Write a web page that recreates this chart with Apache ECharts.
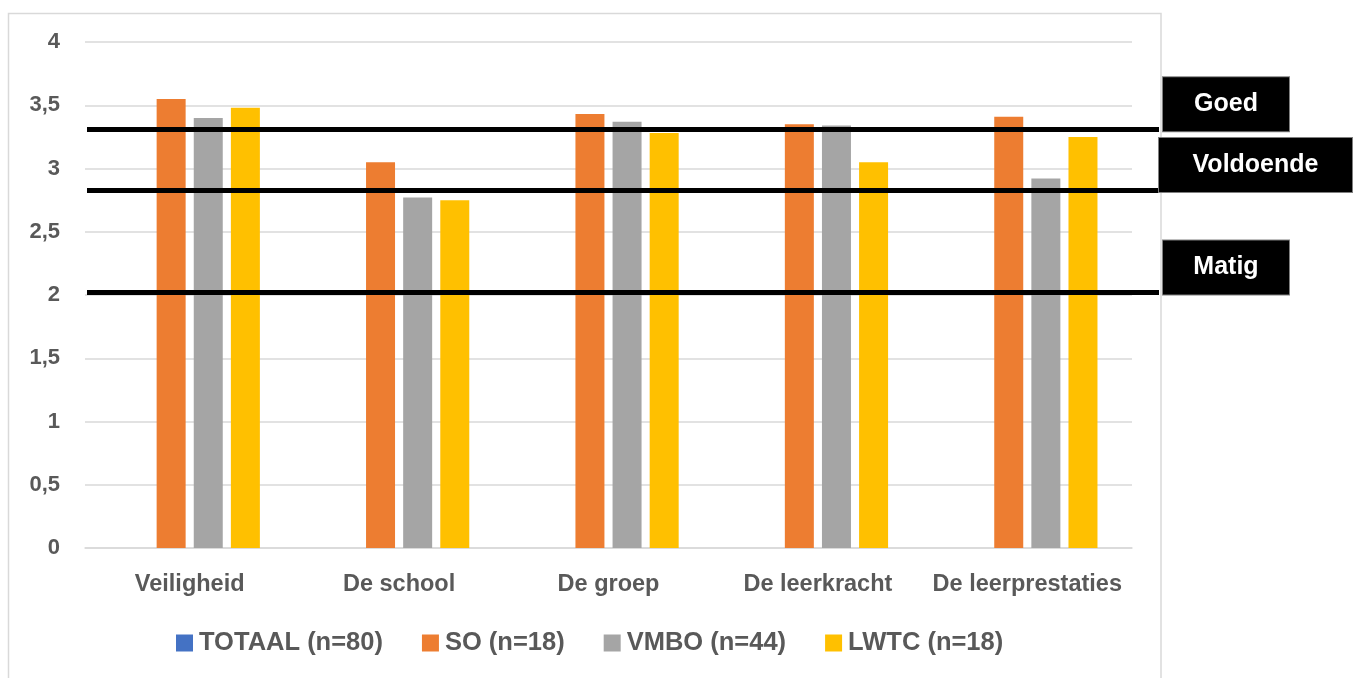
<!DOCTYPE html>
<html>
<head>
<meta charset="utf-8">
<script src="https://cdn.jsdelivr.net/npm/echarts@6/dist/echarts.min.js"></script>
<style>
  html, body { margin: 0; padding: 0; background: #fff; }
  #chart { width: 1359px; height: 678px; }
</style>
</head>
<body>
<div id="chart"></div>
<script>
// categorieën en scores
const categories = ["Veiligheid", "De school", "De groep", "De leerkracht", "De leerprestaties"];
const seriesNames = ["TOTAAL (n=80)", "SO (n=18)", "VMBO (n=44)", "LWTC (n=18)"];
const totaal = [null, null, null, null, null];
const so = [3.55, 3.05, 3.43, 3.35, 3.41];
const vmbo = [3.40, 2.77, 3.37, 3.34, 2.92];
const lwtc = [3.48, 2.75, 3.28, 3.05, 3.25];
// normlijnen
const normNames = ["Goed", "Voldoende", "Matig"];
const normValues = [3.315, 2.825, 2.02];
const yTicks = [0, 0.5, 1, 1.5, 2, 2.5, 3, 3.5, 4];

const colors = ["#4472c4", "#ed7d31", "#a5a5a5", "#ffc000"];
const textColor = "#595959";
const font = "Liberation Sans";

const chart = echarts.init(document.getElementById("chart"));

const barSeries = [totaal, so, vmbo, lwtc].map((d, i) => ({
  name: seriesNames[i],
  type: "bar",
  xAxisIndex: 0,
  yAxisIndex: 0,
  data: d,
  barWidth: 29,
  barGap: "28%",
  itemStyle: { color: colors[i] },
  emphasis: { disabled: true },
}));

// breedte en verschuiving van de zwarte labelvakken
const labelWidths = [128, 195, 128];
const labelShift = [0, -4, 0];

const option = {
  animation: false,
  color: colors,
  graphic: [
    {
      type: "rect",
      shape: { x: 8.5, y: 13.5, width: 1152.5, height: 700 },
      style: { fill: "none", stroke: "#d9d9d9", lineWidth: 1.5 },
      z: -1,
    },
  ],
  legend: {
    left: 171,
    top: 625,
    itemWidth: 17,
    itemHeight: 17,
    itemGap: 39,
    itemStyle: { borderWidth: 0 },
    icon: "rect",
    data: seriesNames,
    textStyle: { color: textColor, fontSize: 25.5, fontWeight: "bold", fontFamily: font, padding: [0, 0, 0, 1] },
  },
  grid: [
    { left: 85, right: 227, top: 42, bottom: 130 },
    { left: 87, right: 200, top: 42, bottom: 130 },
  ],
  xAxis: [
    {
      type: "category",
      gridIndex: 0,
      data: categories,
      axisTick: { show: false },
      axisLine: { lineStyle: { color: "#d9d9d9", width: 1.5 } },
      axisLabel: {
        interval: 0,
        color: textColor,
        fontSize: 23.5,
        fontWeight: "bold",
        fontFamily: font,
        margin: 25,
      },
    },
    { type: "value", gridIndex: 1, min: 0, max: 1, show: false },
  ],
  yAxis: [
    {
      type: "value",
      gridIndex: 0,
      min: yTicks[0],
      max: yTicks[yTicks.length - 1],
      interval: 0.5,
      axisLine: { show: false },
      axisTick: { show: false },
      splitLine: { lineStyle: { color: "#d9d9d9", width: 1.5 } },
      axisLabel: {
        color: textColor,
        fontSize: 22,
        fontWeight: "bold",
        fontFamily: font,
        margin: 25,
        formatter: (v) => String(v).replace(".", ","),
      },
    },
    { type: "value", gridIndex: 1, min: 0, max: 4, show: false },
  ],
  series: [
    ...barSeries,
    {
      type: "line",
      xAxisIndex: 1,
      yAxisIndex: 1,
      data: [],
      silent: true,
      markLine: {
        silent: true,
        symbol: "none",
        lineStyle: { color: "#000", width: 5, type: "solid" },
        data: normValues.map((v, i) => ({
          yAxis: v,
          label: {
            show: true,
            position: "end",
            distance: 3,
            offset: [labelWidths[i] / 2 + labelShift[i], -25],
            formatter: normNames[i],
            backgroundColor: "#000",
            borderColor: "#7f7f7f",
            borderWidth: 1,
            color: "#fff",
            fontSize: 25,
            fontWeight: "bold",
            fontFamily: font,
            width: labelWidths[i] - 2,
            height: 54,
            lineHeight: 54,
            align: "center",
            verticalAlign: "middle",
            padding: 0,
          },
        })),
      },
    },
  ],
};

chart.setOption(option);
</script>
</body>
</html>
